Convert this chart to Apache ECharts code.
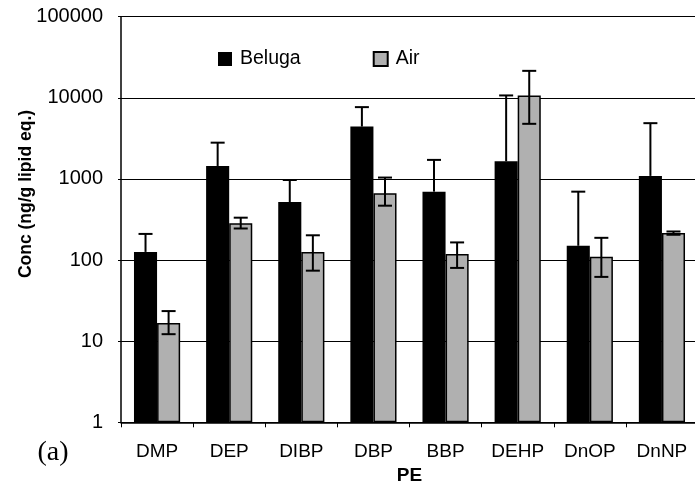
<!DOCTYPE html>
<html>
<head>
<meta charset="utf-8">
<script src="https://cdn.jsdelivr.net/npm/echarts@6/dist/echarts.min.js"></script>
<style>
  html, body { margin: 0; padding: 0; background: #fff; }
  #chart { width: 695px; height: 483px; }
</style>
</head>
<body>
<div id="chart"></div>
<script>
// ---- data ----
var categories = ['DMP', 'DEP', 'DIBP', 'DBP', 'BBP', 'DEHP', 'DnOP', 'DnNP'];
var beluga     = [126, 1445, 520, 4420, 697, 1650, 150, 1090];
var belugaHigh = [210, 2800, 970, 7680, 1717, 10700, 697, 4870];
var air        = [16.7, 284, 126, 666, 119, 10700, 110, 215];
var airHigh    = [23.5, 333, 202, 1040, 165, 21500, 188, 225];
var airLow     = [12.2, 245, 74, 468, 80, 4780, 62, 205];
var yTicks     = [1, 10, 100, 1000, 10000, 100000];

var FONT = "'Liberation Sans', Arial, sans-serif";
var chart = echarts.init(document.getElementById('chart'), null, { renderer: 'canvas' });

function errData(vals, lows, highs) {
  return vals.map(function (v, i) { return [i, v, lows ? lows[i] : v, highs[i]]; });
}

function makeErrRender(side) {
  return function (params, api) {
    var i = api.value(0);
    var lo = api.value(2), hi = api.value(3);
    var c0 = api.coord([0, 1])[0], c1 = api.coord([1, 1])[0];
    var catW = c1 - c0;
    var bw = catW * 0.32;
    var cx = api.coord([i, hi])[0] + side * bw / 2;
    var yHi = api.coord([i, hi])[1];
    var yLo = api.coord([i, lo])[1];
    var cap = 7;
    var st = { stroke: '#000', lineWidth: 2 };
    var children = [
      { type: 'line', shape: { x1: cx, y1: yLo, x2: cx, y2: yHi }, style: st },
      { type: 'line', shape: { x1: cx - cap, y1: yHi, x2: cx + cap, y2: yHi }, style: st }
    ];
    if (Math.abs(yLo - api.coord([i, api.value(1)])[1]) > 0.5) {
      children.push({ type: 'line', shape: { x1: cx - cap, y1: yLo, x2: cx + cap, y2: yLo }, style: st });
    }
    return { type: 'group', children: children };
  };
}

var option = {
  animation: false,
  backgroundColor: '#fff',
  grid: { left: 121, right: -3, top: 16.7, bottom: 60.7, containLabel: false, outerBoundsMode: 'none' },
  legend: {
    data: ['Beluga', 'Air'],
    left: 218, top: 49,
    padding: 0,
    itemWidth: 14, itemHeight: 14,
    itemGap: 72,
    icon: 'rect',
    textStyle: { fontFamily: FONT, fontSize: 19.5, color: '#000', padding: [0, 0, 0, 3] }
  },
  xAxis: {
    type: 'category',
    data: categories,
    boundaryGap: true,
    axisLine: { lineStyle: { color: '#000', width: 1.5 } },
    axisTick: { show: true, length: 5, lineStyle: { color: '#000' } },
    axisLabel: { fontFamily: FONT, fontSize: 19, color: '#000', margin: 20 },
    name: 'PE',
    nameLocation: 'middle',
    nameGap: 37,
    nameTextStyle: { fontFamily: FONT, fontSize: 19, fontWeight: 'bold', color: '#000' }
  },
  yAxis: {
    type: 'log',
    logBase: 10,
    min: yTicks[0],
    max: yTicks[yTicks.length - 1],
    axisLine: { show: true, lineStyle: { color: '#000', width: 1.5 } },
    axisTick: { show: true, length: 3, lineStyle: { color: '#000' } },
    axisLabel: { fontFamily: FONT, fontSize: 20, color: '#000', margin: 18,
                 formatter: function (v) { return String(Math.round(v)); } },
    splitLine: { show: true, lineStyle: { color: '#000', width: 1.2 } }
  },
  graphic: [
    {
      type: 'text', x: 26, y: 194, rotation: Math.PI / 2,
      style: { text: 'Conc (ng/g lipid eq.)', font: 'bold 17.5px ' + FONT, fill: '#000',
               textAlign: 'center', textVerticalAlign: 'middle' }
    },
    {
      type: 'text', x: 53, y: 453,
      style: { text: '(a)', font: "28px 'Liberation Serif', 'Times New Roman', serif", fill: '#000',
               textAlign: 'center', textVerticalAlign: 'middle' }
    }
  ],
  series: [
    {
      name: 'Beluga', type: 'bar', data: beluga,
      barGap: '0%', barCategoryGap: '36%',
      itemStyle: { color: '#000' }
    },
    {
      name: 'Air', type: 'bar', data: air,
      barGap: '0%', barCategoryGap: '36%',
      itemStyle: { color: '#b0b0b0', borderColor: '#000', borderWidth: 1.5 }
    },
    {
      name: 'BelugaErr', type: 'custom', data: errData(beluga, null, belugaHigh),
      encode: { x: 0, y: 1 }, z: 5, renderItem: makeErrRender(-1)
    },
    {
      name: 'AirErr', type: 'custom', data: errData(air, airLow, airHigh),
      encode: { x: 0, y: 1 }, z: 5, renderItem: makeErrRender(1)
    }
  ]
};
chart.setOption(option);
</script>
</body>
</html>
